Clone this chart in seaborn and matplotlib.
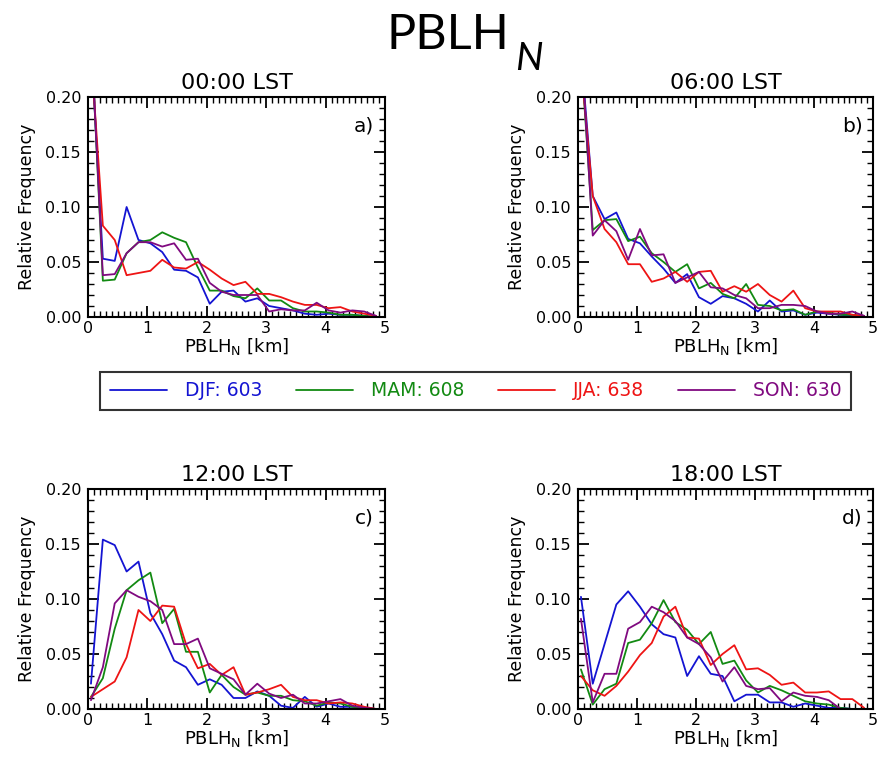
import numpy as np
import pandas as pd
import matplotlib
matplotlib.use("Agg")
import matplotlib.pyplot as plt
from matplotlib.ticker import MultipleLocator
from matplotlib.lines import Line2D
import seaborn as sns

# bin centres [km]
pblh_km = [0.05, 0.25, 0.45, 0.65, 0.85, 1.05, 1.25, 1.45, 1.65, 1.85, 2.05, 2.25,
           2.45, 2.65, 2.85, 3.05, 3.25, 3.45, 3.65, 3.85, 4.05, 4.25, 4.45, 4.65, 4.85]

seasons = ["DJF", "MAM", "JJA", "SON"]
season_counts = [603, 608, 638, 630]
season_colors = ["#1414d2", "#128a12", "#ee1414", "#800a80"]
panel_titles = ["00:00 LST", "06:00 LST", "12:00 LST", "18:00 LST"]
panel_letters = ["a)", "b)", "c)", "d)"]

# 00:00 LST
a_djf = [0.25, 0.053, 0.051, 0.100, 0.070, 0.067, 0.059, 0.043, 0.042, 0.036, 0.012, 0.023, 0.024, 0.014, 0.017, 0.010, 0.008, 0.006, 0.003, 0.002, 0.003, 0.002, 0.002, 0.001, 0.0]
a_mam = [0.26, 0.033, 0.034, 0.058, 0.068, 0.070, 0.077, 0.072, 0.068, 0.045, 0.024, 0.024, 0.019, 0.017, 0.026, 0.015, 0.015, 0.008, 0.005, 0.005, 0.004, 0.002, 0.002, 0.001, 0.0]
a_jja = [0.24, 0.083, 0.070, 0.038, 0.040, 0.042, 0.052, 0.045, 0.044, 0.050, 0.043, 0.035, 0.029, 0.032, 0.021, 0.021, 0.018, 0.014, 0.011, 0.011, 0.008, 0.009, 0.005, 0.003, 0.001]
a_son = [0.26, 0.038, 0.039, 0.058, 0.068, 0.068, 0.064, 0.067, 0.052, 0.053, 0.031, 0.023, 0.020, 0.020, 0.020, 0.005, 0.007, 0.006, 0.006, 0.013, 0.006, 0.004, 0.006, 0.005, 0.001]
# 06:00 LST
b_djf = [0.24, 0.110, 0.089, 0.095, 0.071, 0.067, 0.055, 0.044, 0.031, 0.039, 0.018, 0.012, 0.019, 0.017, 0.012, 0.005, 0.015, 0.005, 0.006, 0.002, 0.004, 0.003, 0.002, 0.001, 0.0]
b_mam = [0.24, 0.079, 0.088, 0.089, 0.069, 0.073, 0.058, 0.050, 0.041, 0.048, 0.026, 0.031, 0.021, 0.017, 0.030, 0.011, 0.010, 0.006, 0.007, 0.002, 0.005, 0.004, 0.002, 0.002, 0.001]
b_jja = [0.23, 0.110, 0.080, 0.068, 0.048, 0.048, 0.032, 0.035, 0.041, 0.032, 0.041, 0.042, 0.023, 0.028, 0.023, 0.030, 0.020, 0.014, 0.024, 0.008, 0.005, 0.005, 0.005, 0.002, 0.001]
b_son = [0.25, 0.074, 0.088, 0.078, 0.052, 0.080, 0.056, 0.057, 0.031, 0.036, 0.041, 0.027, 0.026, 0.020, 0.017, 0.008, 0.008, 0.011, 0.011, 0.010, 0.005, 0.003, 0.003, 0.005, 0.001]
# 12:00 LST
c_djf = [0.023, 0.154, 0.149, 0.125, 0.134, 0.087, 0.068, 0.044, 0.038, 0.022, 0.027, 0.022, 0.010, 0.010, 0.016, 0.012, 0.003, 0.001, 0.011, 0.002, 0.005, 0.002, 0.002, 0.001, 0.0]
c_mam = [0.011, 0.028, 0.073, 0.108, 0.117, 0.124, 0.078, 0.091, 0.052, 0.052, 0.015, 0.031, 0.020, 0.013, 0.015, 0.012, 0.012, 0.008, 0.007, 0.003, 0.006, 0.005, 0.002, 0.001, 0.0]
c_jja = [0.011, 0.018, 0.025, 0.047, 0.090, 0.080, 0.094, 0.093, 0.059, 0.037, 0.041, 0.031, 0.038, 0.013, 0.015, 0.018, 0.022, 0.011, 0.008, 0.008, 0.005, 0.006, 0.005, 0.002, 0.0]
c_son = [0.008, 0.038, 0.096, 0.108, 0.102, 0.098, 0.090, 0.059, 0.059, 0.064, 0.037, 0.032, 0.027, 0.013, 0.023, 0.014, 0.010, 0.013, 0.005, 0.005, 0.007, 0.009, 0.003, 0.001, 0.0]
# 18:00 LST
d_djf = [0.102, 0.023, 0.059, 0.095, 0.107, 0.093, 0.077, 0.068, 0.065, 0.030, 0.048, 0.032, 0.030, 0.007, 0.013, 0.013, 0.006, 0.006, 0.002, 0.005, 0.003, 0.001, 0.001, 0.0, 0.0]
d_mam = [0.036, 0.004, 0.018, 0.023, 0.060, 0.063, 0.078, 0.099, 0.079, 0.072, 0.059, 0.070, 0.041, 0.044, 0.026, 0.015, 0.021, 0.017, 0.012, 0.007, 0.005, 0.004, 0.001, 0.0, 0.0]
d_jja = [0.030, 0.017, 0.012, 0.021, 0.034, 0.049, 0.060, 0.084, 0.093, 0.065, 0.064, 0.040, 0.050, 0.058, 0.036, 0.037, 0.031, 0.022, 0.024, 0.015, 0.015, 0.016, 0.009, 0.009, 0.001]
d_son = [0.082, 0.006, 0.032, 0.032, 0.073, 0.079, 0.093, 0.088, 0.080, 0.065, 0.059, 0.047, 0.025, 0.038, 0.021, 0.018, 0.019, 0.007, 0.015, 0.012, 0.011, 0.008, 0.0, 0.0, 0.0]

panels = [
    [a_djf, a_mam, a_jja, a_son],
    [b_djf, b_mam, b_jja, b_son],
    [c_djf, c_mam, c_jja, c_son],
    [d_djf, d_mam, d_jja, d_son],
]

sns.set_style("white")
plt.rcParams["font.family"] = ["DejaVu Sans"]
plt.rcParams["mathtext.default"] = "regular"
plt.rcParams["text.color"] = "black"
plt.rcParams["axes.labelcolor"] = "black"
plt.rcParams["xtick.color"] = "black"
plt.rcParams["ytick.color"] = "black"
plt.rcParams["xtick.labelcolor"] = "black"
plt.rcParams["ytick.labelcolor"] = "black"

W, H = 887, 757
fig = plt.figure(figsize=(W / 100, H / 100), dpi=100)

# axes boxes in pixels: left, right, top, bottom
boxes = [(88, 385, 97, 317), (578, 873, 97, 317),
         (88, 385, 489, 709), (578, 873, 489, 709)]

palette = dict(zip(seasons, season_colors))

for i, (l, r, t, b) in enumerate(boxes):
    ax = fig.add_axes([l / W, 1 - b / H, (r - l) / W, (b - t) / H])
    rows = []
    for s, vals in zip(seasons, panels[i]):
        for x, v in zip(pblh_km, vals):
            rows.append({"PBLH": x, "freq": v, "season": s})
    df = pd.DataFrame(rows)
    sns.lineplot(data=df, x="PBLH", y="freq", hue="season", palette=palette,
                 hue_order=seasons, linewidth=1.3, ax=ax, legend=False)
    ax.set_xlim(0, 5)
    ax.set_ylim(0, 0.2)
    ax.xaxis.set_major_locator(MultipleLocator(1))
    ax.xaxis.set_minor_locator(MultipleLocator(0.1))
    ax.yaxis.set_major_locator(MultipleLocator(0.05))
    ax.yaxis.set_minor_locator(MultipleLocator(0.01))
    ax.set_yticks([0, 0.05, 0.10, 0.15, 0.20])
    ax.set_yticklabels(["0.00", "0.05", "0.10", "0.15", "0.20"])
    ax.tick_params(which="both", direction="in", top=True, right=True,
                   bottom=True, left=True, color="black", labelcolor="black",
                   labelsize=11.5)
    ax.tick_params(axis="y", pad=5)
    ax.tick_params(axis="x", pad=3)
    ax.tick_params(which="major", length=8, width=1.3)
    ax.tick_params(which="minor", length=4, width=1.0)
    for sp in ax.spines.values():
        sp.set_color("black")
        sp.set_linewidth(1.5)
    ax.set_xlabel("PBLH$_N$ [km]", fontsize=13, labelpad=0, color="black")
    ax.set_ylabel("Relative Frequency", fontsize=12.5, labelpad=7, color="black")
    ax.set_title(panel_titles[i], fontsize=16, pad=6, color="black")
    ax.text(0.93, 0.87, panel_letters[i], transform=ax.transAxes, fontsize=14.5,
            ha="center", va="center", color="black")

# main title
fig.text(448 / W, 1 - 35 / H, "PBLH", fontsize=35, ha="center", va="center",
         family=["Lato", "DejaVu Sans"], color="black")
fig.text(529 / W, 1 - 59 / H, "N", fontsize=28, ha="center", va="center",
         style="italic", family=["Lato", "DejaVu Sans"], color="black")

# legend
handles = [Line2D([], [], color=c, lw=1.3) for c in season_colors]
labels = [f"{s}: {n}" for s, n in zip(seasons, season_counts)]
leg = fig.legend(handles, labels, loc="center", bbox_to_anchor=(475.5 / W, 1 - 391 / H),
                 ncol=4, frameon=True, fancybox=False, edgecolor="black",
                 handlelength=3.05, handletextpad=0.95, columnspacing=1.8,
                 borderpad=0.5, prop={"size": 13.5})
leg.get_frame().set_linewidth(1.5)
for txt, c in zip(leg.get_texts(), season_colors):
    txt.set_color(c)

fig.savefig("out.png", dpi=100)
